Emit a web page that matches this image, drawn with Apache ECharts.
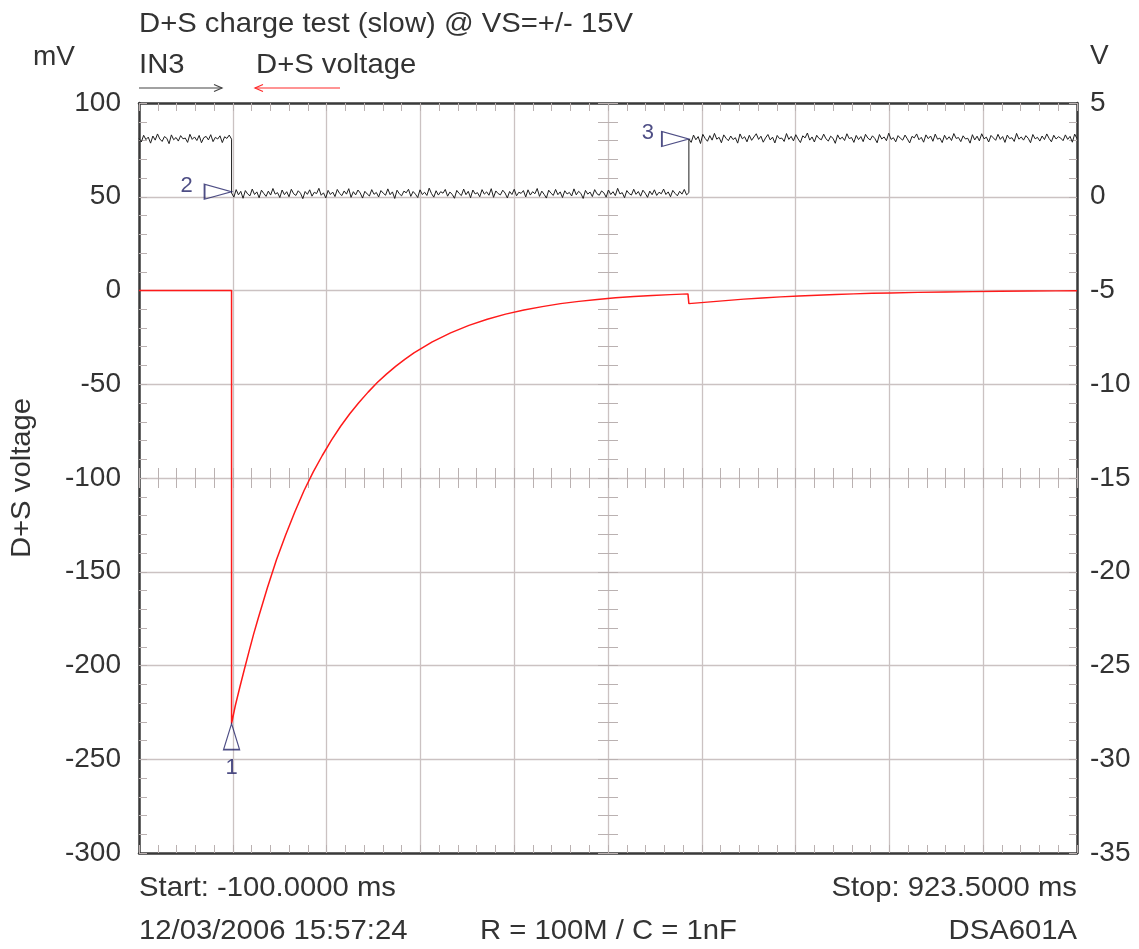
<!DOCTYPE html>
<html>
<head>
<meta charset="utf-8">
<script src="https://cdn.jsdelivr.net/npm/echarts@6/dist/echarts.min.js"></script>
<style>
  html, body { margin: 0; padding: 0; background: #fff; }
  #scope { width: 1139px; height: 949px; }
</style>
</head>
<body>
<div id="scope"></div>
<script>
// D+S charge test, scope capture
var chart = echarts.init(document.getElementById('scope'));

// red trace, D+S voltage (mV, left axis)
var redTimes = [-100, 1, 1, 5, 10, 15, 20, 25, 30, 40, 50, 60, 70, 80, 90, 100, 110, 120, 130, 140, 150, 160, 170, 180, 190, 200,
  220, 240, 260, 280, 300, 320, 340, 360, 380, 400, 420, 440, 460, 480, 499, 500, 510, 520,
  540, 560, 580, 600, 620, 640, 660, 680, 700, 720, 750, 780, 810, 840, 870, 900, 923.5];
var redValues = [0, 0, -231, -221.6, -211.6, -202.0, -192.6, -183.4, -174.9, -158.7, -143.6, -130.4, -118.1, -106.8, -96.9, -88.0, -79.8, -72.4, -65.7, -59.7, -54.2, -49.1, -44.6, -40.5, -36.7, -33.3,
  -27.4, -22.6, -18.6, -15.3, -12.6, -10.4, -8.6, -7.0, -5.8, -4.8, -3.9, -3.2, -2.7, -2.2, -1.8, -7.0, -6.6, -6.2,
  -5.4, -4.6, -4.0, -3.4, -2.9, -2.5, -2.1, -1.8, -1.5, -1.3, -1.0, -0.8, -0.6, -0.4, -0.3, -0.2, -0.1];

// black trace, IN3 (V, right axis), sampled evenly inside each segment
var in3Segments = [[-100, 1], [1, 500], [500, 923.5]];
var in3High1 = [3.10,2.92,3.28,3.05,3.18,2.86,3.24,3.02,3.35,3.08,2.95,3.21,3.12,2.83,3.30,3.04,3.16,2.97,3.26,3.09,
  3.13,2.90,3.33,3.06,3.19,3.00,3.27,2.88,3.15,3.22,3.03,3.31,2.94,3.17,3.08,3.25,2.89,3.20,3.11,3.29,3.07];
var in3Low = [0.20,-0.02,0.38,0.10,0.29,-0.08,0.33,0.15,0.05,0.41,0.12,0.26,-0.05,0.35,0.18,0.02,0.30,0.09,0.44,0.14,
  0.22,-0.04,0.36,0.11,0.27,0.00,0.40,0.16,0.07,0.32,0.19,-0.10,0.28,0.13,0.37,0.03,0.24,0.17,0.45,0.08,
  0.21,-0.06,0.34,0.12,0.25,0.01,0.39,0.18,0.06,0.31,0.14,0.43,-0.03,0.27,0.10,0.36,0.20,-0.07,0.29,0.15,
  0.04,0.38,0.13,0.23,-0.01,0.33,0.19,0.08,0.42,0.11,0.26,-0.09,0.35,0.16,0.05,0.30,0.21,0.40,0.02,0.28,
  0.14,-0.04,0.37,0.12,0.24,0.07,0.46,0.17,-0.02,0.32,0.09,0.27,0.19,0.39,0.03,0.25,0.13,-0.08,0.34,0.18,
  0.06,0.41,0.11,0.29,-0.05,0.36,0.15,0.22,0.00,0.38,0.14,0.26,0.08,0.43,-0.03,0.31,0.17,0.10,0.35,0.20,
  -0.06,0.28,0.12,0.40,0.05,0.24,0.18,0.33,-0.01,0.37,0.09,0.27,0.16,0.44,0.02,0.30,0.13,-0.07,0.35,0.19,
  0.07,0.39,0.11,0.26,-0.04,0.32,0.15,0.23,0.04,0.42,0.10,0.29,0.18,-0.09,0.34,0.14,0.25,0.01,0.38,0.16,
  0.08,0.31,0.21,-0.02,0.36,0.12,0.27,0.06,0.45,0.15,0.22,-0.05,0.33,0.17,0.09,0.40,0.13,0.28,0.03,0.35,
  0.19,-0.03,0.30,0.11,0.37,0.07,0.24,0.16,0.41,0.12,0.26,0.00,0.34,0.18,0.05,0.29,0.14,0.39,0.10,0.22];
var in3High2 = [3.08,2.90,3.29,3.04,3.21,2.84,3.33,3.11,2.96,3.26,3.02,3.38,3.07,3.17,2.88,3.30,3.12,2.99,3.24,3.05,
  3.15,2.86,3.35,3.09,3.20,2.93,3.28,3.01,3.19,3.36,3.06,3.23,2.91,3.14,3.32,3.03,3.18,2.87,3.27,3.10,
  3.13,2.95,3.37,3.06,3.22,2.98,3.31,3.08,2.89,3.25,3.14,3.40,3.02,3.19,2.92,3.28,3.11,3.04,3.34,3.09,
  2.97,3.23,3.12,2.85,3.30,3.07,3.18,3.00,3.36,3.10,3.16,2.90,3.27,3.05,3.21,2.94,3.33,3.13,3.03,3.25,
  3.11,2.88,3.32,3.08,3.19,2.99,3.39,3.06,3.15,2.93,3.26,3.12,3.02,3.29,3.09,2.87,3.22,3.14,3.35,3.04,
  3.17,2.91,3.30,3.10,3.24,2.96,3.34,3.07,3.13,2.89,3.28,3.05,3.20,3.00,3.37,3.11,3.16,2.94,3.25,3.08,
  3.12,2.86,3.31,3.03,3.23,2.98,3.36,3.09,3.18,2.92,3.27,3.14,3.01,3.33,3.06,3.21,2.90,3.29,3.10,3.15,
  2.95,3.38,3.07,3.19,3.02,3.26,3.12,2.88,3.32,3.09,3.17,2.97,3.24,3.05,3.35,3.11,2.93,3.28,3.08,3.20,
  3.13,2.99,3.30,3.06,3.22,2.91,3.34,3.10];

// cursor markers: [time ms, value]
var marker1 = [1, -231];          // mV
var markers23 = [[1, 0.27], [500, 3.08]]; // V
var markerLabels = ['1', '2', '3'];

var leftTicks = { min: -300, max: 100, step: 50 };
var rightTicks = { min: -35, max: 5, step: 5 };

var FONT = "'Liberation Sans', Arial, sans-serif";
var TXT = '#333333';
var FRAME = '#3a3a3a';
var GRID = '#cbc2c2';
var TICK = '#bab1b1';
var NAVY = '#222266';

function segmentPoints(seg, vals) {
  var pts = [];
  var step = (seg[1] - seg[0]) / (vals.length - 1);
  for (var i = 0; i < vals.length; i++) pts.push([seg[0] + i * step, vals[i]]);
  return pts;
}

var redData = redTimes.map(function (t, i) { return [t, redValues[i]]; });
var in3Data = segmentPoints(in3Segments[0], in3High1)
  .concat(segmentPoints(in3Segments[1], in3Low))
  .concat(segmentPoints(in3Segments[2], in3High2));

function divAxis(pos, opts) {
  var a = {
    type: 'value', min: 0, max: 10, interval: 1, position: pos,
    axisLine: { show: true, onZero: false, lineStyle: { color: FRAME, width: 2.5 } },
    axisTick: { show: true, inside: true, length: 8, lineStyle: { color: TICK, width: 1 } },
    minorTick: { show: true, splitNumber: 5, length: 8, lineStyle: { color: TICK, width: 1 } },
    axisLabel: { show: false },
    splitLine: { show: false }
  };
  return Object.assign(a, opts || {});
}

function crossTicks(inside, isY) {
  var a = {
    type: 'value',
    axisLine: { show: false, onZero: false },
    axisTick: { show: true, inside: inside, length: 10, lineStyle: { color: TICK, width: 1 } },
    minorTick: { show: true, splitNumber: 5, length: 10, lineStyle: { color: TICK, width: 1 } },
    axisLabel: { show: false },
    splitLine: { show: false }
  };
  if (isY) {
    a.min = leftTicks.min; a.max = leftTicks.max; a.interval = leftTicks.step;
    a.position = 'left'; a.offset = -469;
  } else {
    a.min = 0; a.max = 10; a.interval = 1;
    a.position = 'bottom'; a.offset = -375;
  }
  return a;
}

function txt(text, x, y, align, extra) {
  var el = {
    type: 'text', x: x, y: y, scaleX: 1.045, silent: true,
    style: {
      text: text, font: '28px ' + FONT, fill: TXT,
      align: align, textAlign: align, verticalAlign: 'middle', textVerticalAlign: 'middle'
    }
  };
  return Object.assign(el, extra || {});
}

var markerFont = "'Liberation Sans Narrow', 'Arial Narrow', " + FONT;

var option = {
  animation: false,
  backgroundColor: '#ffffff',
  grid: { left: 139, right: 62, top: 103, bottom: 96, containLabel: false, outerBoundsMode: 'none' },
  xAxis: [
    { type: 'value', min: -100, max: 923.5, show: false },
    divAxis('bottom', { splitLine: { show: true, lineStyle: { color: GRID, width: 1.3 } } }),
    divAxis('top'),
    crossTicks(true, false),
    crossTicks(false, false)
  ],
  yAxis: [
    {
      type: 'value', position: 'left', min: leftTicks.min, max: leftTicks.max, interval: leftTicks.step,
      axisLine: { show: true, onZero: false, lineStyle: { color: FRAME, width: 2.5 } },
      axisTick: { show: true, inside: true, length: 8, lineStyle: { color: TICK } },
      minorTick: { show: true, splitNumber: 5, length: 8, lineStyle: { color: TICK } },
      splitLine: { show: true, lineStyle: { color: GRID, width: 1.3 } },
      axisLabel: { color: TXT, fontSize: 28, fontFamily: FONT, margin: 18 }
    },
    {
      type: 'value', position: 'right', min: rightTicks.min, max: rightTicks.max, interval: rightTicks.step,
      axisLine: { show: true, onZero: false, lineStyle: { color: FRAME, width: 2.5 } },
      axisTick: { show: true, inside: true, length: 8, lineStyle: { color: TICK } },
      minorTick: { show: true, splitNumber: 5, length: 8, lineStyle: { color: TICK } },
      splitLine: { show: false },
      axisLabel: { color: TXT, fontSize: 28, fontFamily: FONT, margin: 13 }
    },
    crossTicks(true, true),
    crossTicks(false, true)
  ],
  series: [
    {
      name: 'IN3', type: 'line', xAxisIndex: 0, yAxisIndex: 1, data: in3Data,
      showSymbol: false, symbol: 'none',
      lineStyle: { color: '#1e1e1e', width: 1 }, z: 3
    },
    {
      name: 'D+S voltage', type: 'line', xAxisIndex: 0, yAxisIndex: 0, data: redData,
      showSymbol: false, symbol: 'none',
      lineStyle: { color: '#ff1a1a', width: 1.5 }, z: 4
    },
    {
      type: 'scatter', xAxisIndex: 0, yAxisIndex: 0, z: 5,
      data: [{
        value: marker1,
        symbol: 'path://M7.5 0L15 26L0 26Z', symbolSize: [16, 26], symbolOffset: [0, 13],
        label: { show: true, position: 'bottom', distance: 6, formatter: markerLabels[0] }
      }],
      itemStyle: { color: 'rgba(255,255,255,0)', borderColor: NAVY, borderWidth: 1.4 },
      label: { color: NAVY, fontSize: 22, fontFamily: markerFont }
    },
    {
      type: 'scatter', xAxisIndex: 0, yAxisIndex: 1, z: 5,
      data: markers23.map(function (p, i) {
        return {
          value: p,
          symbol: 'path://M0 0L28 7.5L0 15Z', symbolSize: [27, 15], symbolOffset: [-13.5, 0],
          label: { show: true, position: 'left', distance: i === 0 ? 11 : 10, offset: i === 0 ? [0, -6] : [3, -6], formatter: markerLabels[i + 1] }
        };
      }),
      itemStyle: { color: 'rgba(255,255,255,0)', borderColor: NAVY, borderWidth: 1.4 },
      label: { color: NAVY, fontSize: 22, fontFamily: markerFont }
    }
  ],
  graphic: [
    txt('D+S charge test (slow) @ VS=+/- 15V', 139, 24, 'left'),
    txt('mV', 33, 57, 'left', { scaleX: 1 }),
    txt('V', 1090, 56, 'left', { scaleX: 1 }),
    txt('IN3', 139, 65, 'left'),
    txt('D+S voltage', 256, 65, 'left'),
    txt('D+S voltage', 22, 478, 'center', { rotation: Math.PI / 2 }),
    txt('Start: -100.0000 ms', 139, 888, 'left'),
    txt('Stop: 923.5000 ms', 1077, 888, 'right'),
    txt('12/03/2006 15:57:24', 139, 931, 'left'),
    txt('R = 100M / C = 1nF', 480, 931, 'left'),
    txt('DSA601A', 1077, 931, 'right'),
    { type: 'polyline', silent: true, shape: { points: [[139, 88], [222, 88]] }, style: { stroke: '#444', lineWidth: 1.2, fill: null } },
    { type: 'polyline', silent: true, shape: { points: [[214, 84.5], [222, 88], [214, 91.5]] }, style: { stroke: '#444', lineWidth: 1.2, fill: null } },
    { type: 'polyline', silent: true, shape: { points: [[255, 88], [340, 88]] }, style: { stroke: '#ff2a2a', lineWidth: 1.2, fill: null } },
    { type: 'polyline', silent: true, shape: { points: [[263, 84.5], [255, 88], [263, 91.5]] }, style: { stroke: '#ff2a2a', lineWidth: 1.2, fill: null } }
  ]
};

chart.setOption(option);
</script>
</body>
</html>
